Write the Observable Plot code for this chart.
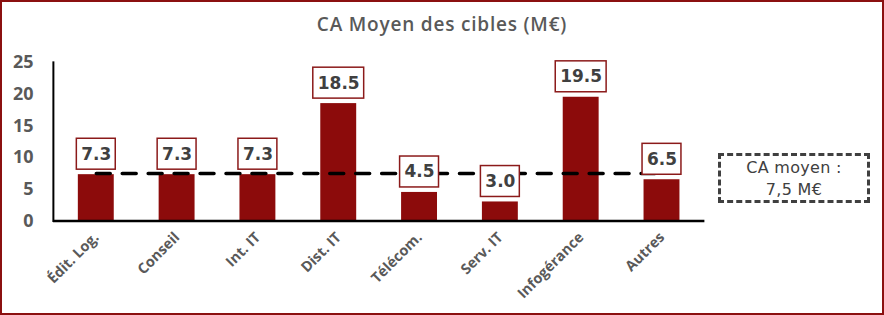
<!DOCTYPE html>
<html>
<head>
<meta charset="utf-8">
<script src="https://cdn.jsdelivr.net/npm/d3@7"></script>
<script src="https://cdn.jsdelivr.net/npm/@observablehq/plot@0.6"></script>
<style>
  html, body { margin: 0; padding: 0; background: #fff; }
  #wrap { position: relative; width: 884px; height: 315px; box-sizing: border-box; border: 2px solid #8B1010; overflow: hidden; }
  #chart { position: absolute; left: -2px; top: -2px; }
  #title { position: absolute; left: -2px; top: 9px; width: 884px; text-align: center;
           font-family: "Open Sans", sans-serif; font-weight: 600; font-size: 19px; letter-spacing: 0.8px; color: #595959; }
  #legend { position: absolute; left: 716px; top: 151px; width: 152px; height: 50px; box-sizing: border-box;
            border: 3px dashed #404040; font-family: "DejaVu Sans", sans-serif; font-size: 16px; letter-spacing: 0.3px; color: #404040;
            text-align: center; line-height: 22px; padding-top: 1px; }
</style>
</head>
<body>
<div id="wrap">
  <div id="chart"></div>
  <div id="title"></div>
  <div id="legend"></div>
</div>
<script>
const titleText = "CA Moyen des cibles (M€)";
const categories = ["Édit. Log.", "Conseil", "Int. IT", "Dist. IT", "Télécom.", "Serv. IT", "Infogérance", "Autres"];
const values = [7.3, 7.3, 7.3, 18.5, 4.5, 3.0, 19.5, 6.5];
const average = 7.5;
const yTicks = [0, 5, 10, 15, 20, 25];
const legendLines = ["CA moyen :", "7,5 M€"];

document.getElementById("title").textContent = titleText;
document.getElementById("legend").innerHTML = legendLines.join("<br>");

const data = categories.map((c, i) => ({cat: c, val: values[i]}));
const avgData = categories.map(c => ({cat: c, val: average}));
const label = d => d.val.toFixed(1);
const isWide = d => label(d).length > 3;

const chart = Plot.plot({
  width: 884,
  height: 315,
  marginLeft: 53,
  marginRight: 178,
  marginTop: 62,
  marginBottom: 94,
  style: {background: "transparent", fontFamily: "Open Sans", overflow: "visible"},
  x: {domain: categories, paddingInner: 0.56, paddingOuter: 0.28, label: null},
  y: {domain: [0, 25], ticks: yTicks, label: null},
  marks: [
    Plot.axisY({ticks: yTicks, tickSize: 0, tickPadding: 20, fontSize: 18, fontWeight: 700, fill: "#595959", label: null}),
    Plot.axisX({tickSize: 0, tickRotate: -45, tickPadding: 14, fontSize: 14.5, fontWeight: 700, fill: "#595959", label: null}),
    Plot.barY(data, {x: "cat", y: "val", fill: "#8C0B0B"}),
    Plot.ruleY([0], {stroke: "#000", strokeWidth: 2.5}),
    Plot.frame({anchor: "left", stroke: "#000", strokeWidth: 2}),
    Plot.lineY(avgData, {x: "cat", y: "val", stroke: "#000", strokeWidth: 3.5, strokeDasharray: "14,12"}),
    Plot.barY(data.filter(d => !isWide(d)), {x: "cat", y1: "val", y2: "val", insetTop: -36, insetBottom: 5, insetLeft: -1.5, insetRight: -1.5, fill: "#fff", stroke: "#8B1A1A", strokeWidth: 1.5}),
    Plot.barY(data.filter(isWide), {x: "cat", y1: "val", y2: "val", insetTop: -36, insetBottom: 5, insetLeft: -7.5, insetRight: -7.5, fill: "#fff", stroke: "#8B1A1A", strokeWidth: 1.5}),
    Plot.text(data, {x: "cat", y: "val", text: label, dy: -20.5, lineAnchor: "middle", fontFamily: "DejaVu Sans", fontWeight: 700, fontSize: 17, fill: "#404040"})
  ]
});
document.getElementById("chart").appendChild(chart);
</script>
</body>
</html>
